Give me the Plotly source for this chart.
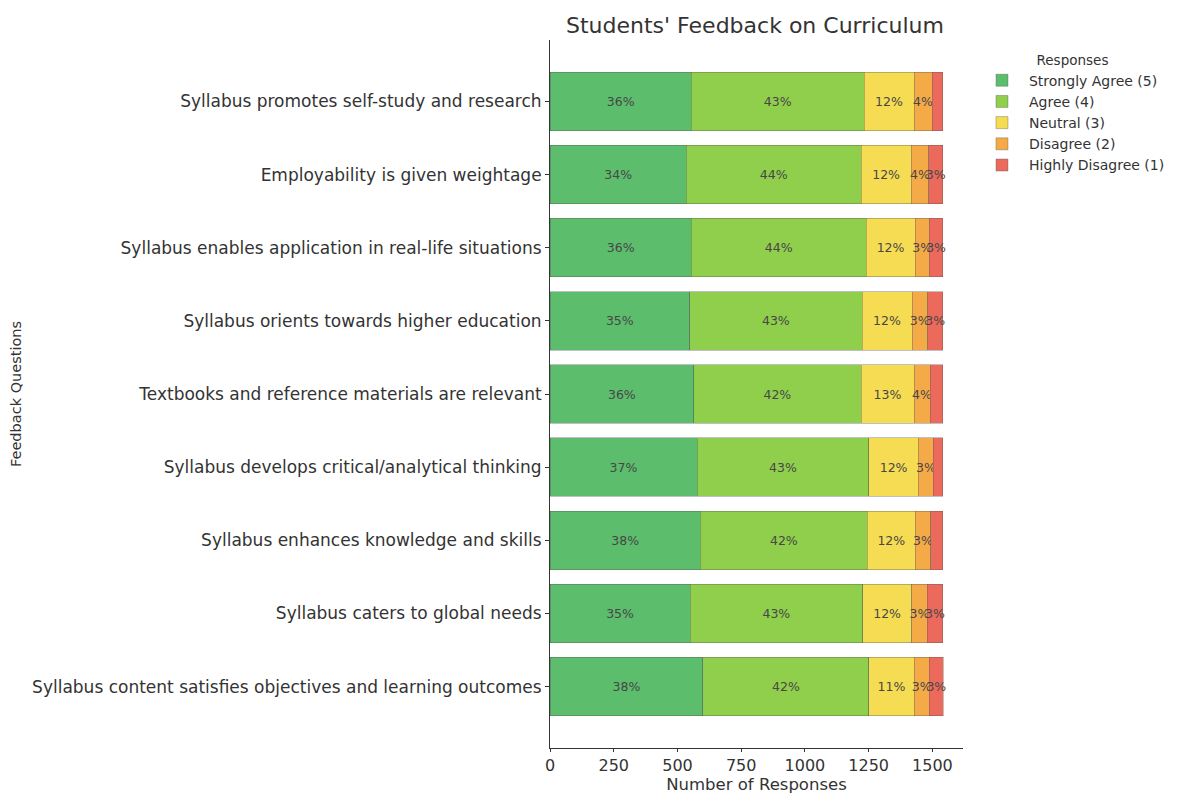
import plotly.graph_objects as go

questions = [
    "Syllabus promotes self-study and research",
    "Employability is given weightage",
    "Syllabus enables application in real-life situations",
    "Syllabus orients towards higher education",
    "Textbooks and reference materials are relevant",
    "Syllabus develops critical/analytical thinking",
    "Syllabus enhances knowledge and skills",
    "Syllabus caters to global needs",
    "Syllabus content satisfies objectives and learning outcomes",
]

strongly_agree = [555, 535, 555, 548, 564, 577, 590, 550, 600]
agree = [677, 685, 685, 676, 656, 674, 655, 676, 651]
neutral = [196, 197, 192, 196, 208, 194, 188, 193, 177]
disagree = [71, 68, 56, 61, 63, 59, 60, 61, 60]
highly_disagree = [42, 56, 53, 60, 50, 37, 48, 60, 55]

series_names = ["Strongly Agree (5)", "Agree (4)", "Neutral (3)", "Disagree (2)", "Highly Disagree (1)"]
series_values = [strongly_agree, agree, neutral, disagree, highly_disagree]
colors = ["#5cbd6c", "#8fcf4c", "#f6dc52", "#f4aa47", "#eb6a5c"]

totals = [sum(v[i] for v in series_values) for i in range(len(questions))]

fig = go.Figure()
for name, vals, col in zip(series_names, series_values, colors):
    texts = []
    for v, t in zip(vals, totals):
        p = 100.0 * v / t
        texts.append(f"{int(p)}%" if p >= 3.4 else "")
    fig.add_trace(go.Bar(
        y=questions, x=vals, name=name, orientation="h",
        marker=dict(color=col, line=dict(color="rgba(90,90,90,0.55)", width=0.7)),
        text=texts, textposition="inside", insidetextanchor="middle",
        textangle=0, constraintext="none",
        textfont=dict(family="DejaVu Sans", size=12.5, color="#474747"),
    ))

fig.update_layout(
    barmode="stack",
    bargap=0.2,
    width=1169, height=786,
    paper_bgcolor="white", plot_bgcolor="white",
    margin=dict(l=542, r=214, t=32, b=46, autoexpand=False),
    font=dict(family="DejaVu Sans", color="#333333"),
    title=dict(text="Students' Feedback on Curriculum", x=0.639, xanchor="center",
               y=0.978, yanchor="middle", font=dict(size=22, color="#333333")),
    legend=dict(x=1.029, xanchor="left", y=0.99, yanchor="top",
                title=dict(text="Responses", side="top center", font=dict(size=13.5)),
                font=dict(size=14, color="#333333"), tracegroupgap=0,
                itemwidth=44, traceorder="normal"),
    xaxis=dict(range=[0, 1620], tick0=0, dtick=250, showline=True, linecolor="#333333",
               linewidth=1, ticks="outside", ticklen=3, tickcolor="#333333",
               showgrid=False, zeroline=False, tickfont=dict(size=16),
               title=dict(text="Number of Responses", font=dict(size=16.5), standoff=0)),
    yaxis=dict(categoryorder="array", categoryarray=questions,
               range=[8.84, -0.84], showline=True, linecolor="#333333", linewidth=1,
               ticks="outside", ticklen=4, tickcolor="#333333", showgrid=False,
               zeroline=False, tickfont=dict(size=17),
               title=dict(text="Feedback Questions", font=dict(size=14.5), standoff=8)),
)

fig.write_html("out.html")
